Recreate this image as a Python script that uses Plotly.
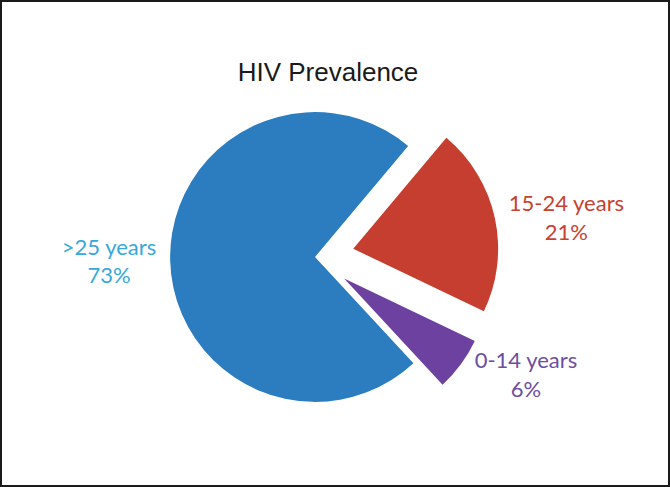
import plotly.graph_objects as go

labels = ["15-24 years", "0-14 years", ">25 years"]
values = [21, 6, 73]
slice_colors = ["#C53E2F", "#6C41A0", "#2C7CC0"]
label_colors = ["#C8412F", "#6E4E9E", "#35A9DB"]
pulls = [0.27, 0.25, 0]

W, H = 670, 487

fig = go.Figure(go.Pie(
    labels=labels,
    values=values,
    sort=False,
    direction="clockwise",
    rotation=40,
    pull=pulls,
    marker=dict(colors=slice_colors, line=dict(width=0)),
    textinfo="label+percent",
    textposition="outside",
    outsidetextfont=dict(family="Lato", size=22, color=label_colors),
    showlegend=False,
    hoverinfo="label+percent",
    domain=dict(x=[131 / W, 499 / W], y=[(H - 441) / H, (H - 73) / H]),
))

fig.update_layout(
    width=W, height=H,
    autosize=False,
    margin=dict(l=0, r=0, t=0, b=0, pad=0, autoexpand=False),
    paper_bgcolor="white",
    plot_bgcolor="white",
    title=dict(text="HIV Prevalence", x=328 / W, xanchor="center", y=1 - 72 / H, yanchor="middle",
               font=dict(family="Liberation Sans", size=26, color="#1a1a1a")),
    shapes=[dict(type="rect", xref="paper", yref="paper", x0=0.0015, x1=0.9985, y0=0.002, y1=0.998,
                 line=dict(color="#1a1a1a", width=2), fillcolor="rgba(0,0,0,0)")],
)

fig.write_html("out.html", config={"displayModeBar": False},
               post_script="document.body.style.margin='0px';")
